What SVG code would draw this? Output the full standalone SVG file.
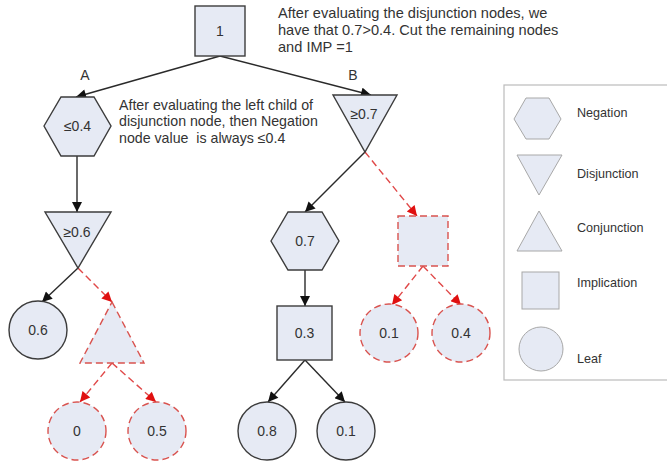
<svg xmlns="http://www.w3.org/2000/svg" width="667" height="464" viewBox="0 0 667 464">
  <style>
    text { font-family: "Liberation Sans", Arial, sans-serif; fill: #333; }
    .lbl { font-size: 14px; text-anchor: middle; dominant-baseline: central; }
    .leg-t { font-size: 12.6px; dominant-baseline: central; }
    .note { font-size: 14.2px; white-space: pre; }
    .top { font-size: 14.6px; }
    .node { fill: #e6eaf4; stroke: #3c3c3c; stroke-width: 1.4; }
    .cut { fill: #e6eaf4; stroke: #d9534f; stroke-width: 1.4; stroke-dasharray: 7 4; }
    .leg { fill: #e6eaf4; stroke: #a8a8a8; stroke-width: 1; }
    .edge { fill: none; stroke: #2a2a2a; stroke-width: 1.4; marker-end: url(#arrow); }
    .redge { fill: none; stroke: #e04848; stroke-width: 1.4; stroke-dasharray: 7 4; marker-end: url(#rarrow); }
  </style>
  <defs>
    <marker id="arrow" viewBox="0 0 10 10" refX="10" refY="5" markerWidth="12" markerHeight="10" markerUnits="userSpaceOnUse" orient="auto">
      <path d="M0,0 L10,5 L0,10 Z" fill="#111"/>
    </marker>
    <marker id="rarrow" viewBox="0 0 10 10" refX="10" refY="5" markerWidth="12" markerHeight="10" markerUnits="userSpaceOnUse" orient="auto">
      <path d="M0,0 L10,5 L0,10 Z" fill="#e01010"/>
    </marker>
  </defs>
  <rect width="667" height="464" fill="#fff"/>

  <!-- connectors -->
  <g id="connectors">
    <line class="edge" x1="220" y1="56" x2="76" y2="97"/>
    <line class="edge" x1="220" y1="56" x2="371" y2="95"/>
    <line class="edge" x1="77" y1="156" x2="77" y2="212"/>
    <line class="edge" x1="78" y1="268" x2="42" y2="302"/>
    <line class="redge" x1="78" y1="268" x2="112" y2="302"/>
    <line class="redge" x1="112" y1="363" x2="80" y2="402"/>
    <line class="redge" x1="112" y1="363" x2="156" y2="402"/>
    <line class="edge" x1="365" y1="152" x2="305" y2="212"/>
    <line class="redge" x1="365" y1="152" x2="417" y2="216"/>
    <line class="edge" x1="305" y1="270" x2="305" y2="306"/>
    <line class="edge" x1="305" y1="360" x2="268" y2="402"/>
    <line class="edge" x1="305" y1="360" x2="345" y2="402"/>
    <line class="redge" x1="423" y1="266" x2="392" y2="305"/>
    <line class="redge" x1="423" y1="266" x2="461" y2="305"/>
  </g>

  <!-- edge labels -->
  <text class="lbl" x="85" y="75">A</text>
  <text class="lbl" x="353" y="75">B</text>

  <!-- notes -->
  <g id="note-top">
    <text class="note top" x="278" y="18">After evaluating the disjunction nodes, we</text>
    <text class="note top" x="278" y="35">have that 0.7&gt;0.4. Cut the remaining nodes</text>
    <text class="note top" x="278" y="52">and IMP =1</text>
  </g>
  <g id="note-left">
    <text class="note" x="119" y="110">After evaluating the left child of</text>
    <text class="note" x="119" y="126">disjunction node, then Negation</text>
    <text class="note" x="119" y="143" xml:space="preserve">node value  is always ≤0.4</text>
  </g>

  <!-- nodes -->
  <g id="root">
    <rect class="node" x="195" y="6" width="50" height="50"/>
    <text class="lbl" x="220" y="31">1</text>
  </g>
  <g id="negA">
    <polygon class="node" points="44,126 61,97 94,97 111,126 94,156 61,156"/>
    <text class="lbl" x="77.5" y="126">≤0.4</text>
  </g>
  <g id="disjA">
    <polygon class="node" points="45,212 111,212 78,268"/>
    <text class="lbl" x="77" y="232">≥0.6</text>
  </g>
  <g id="leaf06">
    <circle class="node" cx="38" cy="330" r="29"/>
    <text class="lbl" x="38" y="330">0.6</text>
  </g>
  <g id="conjA">
    <polygon class="cut" points="112,302 144,363 80,363"/>
  </g>
  <g id="leaf0">
    <circle class="cut" cx="77" cy="431" r="29"/>
    <text class="lbl" x="77" y="431">0</text>
  </g>
  <g id="leaf05">
    <circle class="cut" cx="157" cy="431" r="29"/>
    <text class="lbl" x="157" y="431">0.5</text>
  </g>
  <g id="disjB">
    <polygon class="node" points="333,95 397,95 365,152"/>
    <text class="lbl" x="364" y="114">≥0.7</text>
  </g>
  <g id="negB">
    <polygon class="node" points="271,241 288,212 322,212 339,241 322,270 288,270"/>
    <text class="lbl" x="305" y="241">0.7</text>
  </g>
  <g id="impB">
    <rect class="node" x="277" y="306" width="55" height="54"/>
    <text class="lbl" x="304.5" y="333">0.3</text>
  </g>
  <g id="leaf08">
    <circle class="node" cx="267" cy="431" r="29"/>
    <text class="lbl" x="267" y="431">0.8</text>
  </g>
  <g id="leaf01">
    <circle class="node" cx="346" cy="431" r="29"/>
    <text class="lbl" x="346" y="431">0.1</text>
  </g>
  <g id="impCut">
    <rect class="cut" x="398" y="216" width="50" height="50"/>
  </g>
  <g id="leaf01cut">
    <circle class="cut" cx="389" cy="333" r="29"/>
    <text class="lbl" x="389" y="333">0.1</text>
  </g>
  <g id="leaf04cut">
    <circle class="cut" cx="461" cy="333" r="29"/>
    <text class="lbl" x="461" y="333">0.4</text>
  </g>

  <!-- legend -->
  <g id="legend">
    <rect x="504" y="85" width="170" height="295" fill="#fff" stroke="#bbb" stroke-width="1.2"/>
    <polygon class="leg" points="514,119 526,98 549,98 561,119 549,139 526,139"/>
    <text class="leg-t" x="577" y="113">Negation</text>
    <polygon class="leg" points="517,155 562,155 539,195"/>
    <text class="leg-t" x="577" y="174">Disjunction</text>
    <polygon class="leg" points="539,211 562,251 517,251"/>
    <text class="leg-t" x="577" y="228">Conjunction</text>
    <rect class="leg" x="522" y="272" width="37" height="37"/>
    <text class="leg-t" x="577" y="283">Implication</text>
    <circle class="leg" cx="541" cy="349" r="22"/>
    <text class="leg-t" x="577" y="359">Leaf</text>
  </g>
</svg>
